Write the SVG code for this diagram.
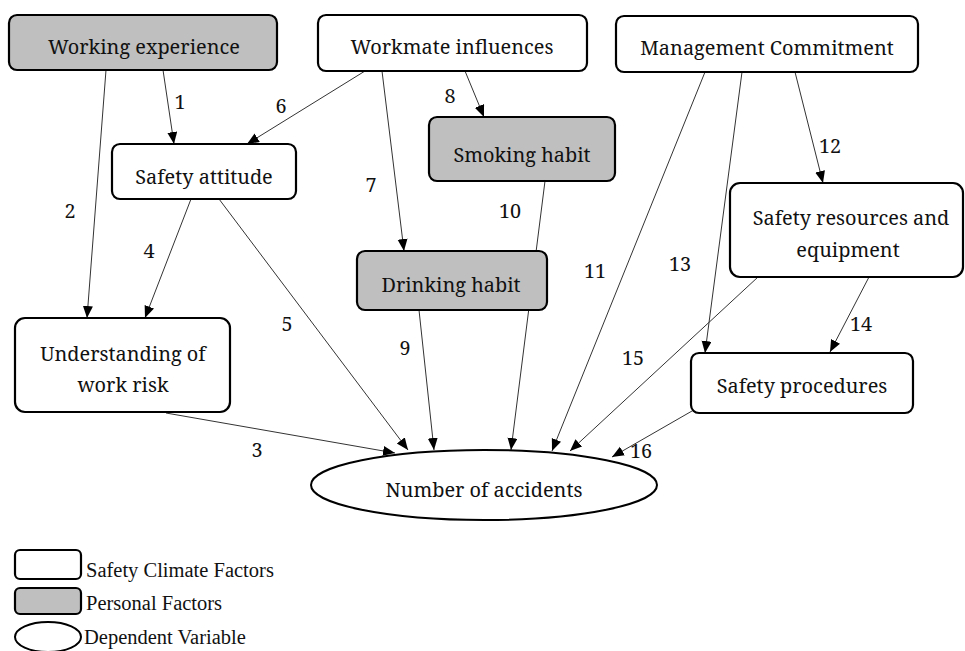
<svg xmlns="http://www.w3.org/2000/svg" width="965" height="651" viewBox="0 0 965 651">
<defs>
<style>
.box{fill:#fff;stroke:#000;stroke-width:2.2}
.pers{fill:#bfbfbf;stroke:#000;stroke-width:2.2}
.lbl{font-family:'Noto Serif','Liberation Serif',serif;font-size:19.9px;fill:#111}
.num{font-family:'Noto Serif','Liberation Serif',serif;font-size:19.8px;fill:#111}
.lg{font-family:'Liberation Serif',serif;font-size:20.5px;fill:#111}
.e{fill:none;stroke:#333;stroke-width:1;marker-end:url(#ah)}
</style>
<marker id="ah" markerUnits="userSpaceOnUse" markerWidth="14" markerHeight="12" refX="12" refY="5" orient="auto">
<path d="M0,0 L12,5 L0,10 Z" fill="#000"/>
</marker>
</defs>
<rect width="965" height="651" fill="#fff"/>
<g id="connectors">
<line class="e" x1="163" y1="70" x2="174" y2="144"/>
<line class="e" x1="106" y1="70" x2="87" y2="318"/>
<line class="e" x1="166" y1="413" x2="395" y2="453"/>
<line class="e" x1="191" y1="199" x2="145" y2="318"/>
<line class="e" x1="219" y1="199" x2="408" y2="450"/>
<line class="e" x1="365" y1="71" x2="247" y2="144"/>
<line class="e" x1="382" y1="71" x2="404" y2="251"/>
<line class="e" x1="465" y1="71" x2="484" y2="117"/>
<line class="e" x1="419" y1="310" x2="434" y2="450"/>
<line class="e" x1="545" y1="181" x2="511" y2="450"/>
<line class="e" x1="705" y1="72" x2="552" y2="451"/>
<line class="e" x1="795" y1="72" x2="823" y2="183"/>
<line class="e" x1="742" y1="72" x2="705" y2="353"/>
<line class="e" x1="869" y1="277" x2="830" y2="352"/>
<line class="e" x1="758" y1="277" x2="570" y2="451"/>
<line class="e" x1="692" y1="411" x2="612" y2="457"/>
<g text-anchor="middle">
<text class="num" x="180" y="109">1</text>
<text class="num" x="70" y="218">2</text>
<text class="num" x="257" y="457">3</text>
<text class="num" x="149" y="258">4</text>
<text class="num" x="287" y="331">5</text>
<text class="num" x="281" y="113">6</text>
<text class="num" x="371" y="192">7</text>
<text class="num" x="450" y="103">8</text>
<text class="num" x="405" y="355">9</text>
<text class="num" x="510" y="218">10</text>
<text class="num" x="595" y="278">11</text>
<text class="num" x="830" y="153">12</text>
<text class="num" x="680" y="271">13</text>
<text class="num" x="861" y="331">14</text>
<text class="num" x="633" y="365">15</text>
<text class="num" x="641" y="458">16</text>
</g>
</g>
<g id="working-experience" text-anchor="middle">
<rect class="pers" x="9" y="15" width="268" height="55" rx="8"/>
<text class="lbl" x="144" y="54">Working experience</text>
</g>
<g id="workmate-influences" text-anchor="middle">
<rect class="box" x="318" y="15" width="269" height="56" rx="8"/>
<text class="lbl" x="452" y="54">Workmate influences</text>
</g>
<g id="management-commitment" text-anchor="middle">
<rect class="box" x="616" y="16" width="302" height="56" rx="8"/>
<text class="lbl" x="767" y="55">Management Commitment</text>
</g>
<g id="safety-attitude" text-anchor="middle">
<rect class="box" x="112" y="144" width="184" height="55" rx="8"/>
<text class="lbl" x="204" y="184">Safety attitude</text>
</g>
<g id="smoking-habit" text-anchor="middle">
<rect class="pers" x="429" y="117" width="186" height="64" rx="8"/>
<text class="lbl" x="522" y="162">Smoking habit</text>
</g>
<g id="safety-resources" text-anchor="middle">
<rect class="box" x="730" y="183" width="233" height="94" rx="10"/>
<text class="lbl" x="851" y="225">Safety resources and</text>
<text class="lbl" x="848" y="257">equipment</text>
</g>
<g id="drinking-habit" text-anchor="middle">
<rect class="pers" x="357" y="251" width="190" height="59" rx="8"/>
<text class="lbl" x="451" y="292">Drinking habit</text>
</g>
<g id="understanding-work-risk" text-anchor="middle">
<rect class="box" x="15" y="318" width="215" height="94" rx="10"/>
<text class="lbl" x="123" y="361">Understanding of</text>
<text class="lbl" x="123" y="392">work risk</text>
</g>
<g id="safety-procedures" text-anchor="middle">
<rect class="box" x="691" y="353" width="222" height="60" rx="8"/>
<text class="lbl" x="802" y="393">Safety procedures</text>
</g>
<g id="number-of-accidents" text-anchor="middle">
<ellipse cx="484" cy="485" rx="173" ry="35" fill="#fff" stroke="#000" stroke-width="2"/>
<text class="lbl" x="484" y="497">Number of accidents</text>
</g>
<g id="legend">
<rect class="box" x="15" y="550" width="66" height="29" rx="5"/>
<text class="lg" x="86" y="577">Safety Climate Factors</text>
<rect class="pers" x="15" y="588" width="66" height="26" rx="5"/>
<text class="lg" x="86" y="610">Personal Factors</text>
<ellipse cx="48" cy="637" rx="33" ry="15" fill="#fff" stroke="#000" stroke-width="2"/>
<text class="lg" x="84" y="644">Dependent Variable</text>
</g>
</svg>
